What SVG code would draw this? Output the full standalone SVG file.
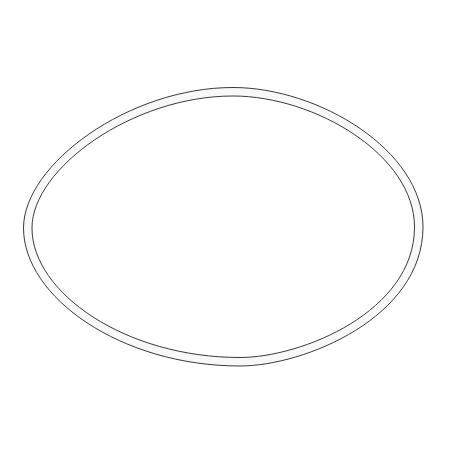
<svg xmlns="http://www.w3.org/2000/svg" width="450" height="450" viewBox="0 0 450 450">
<style>
.ring{fill:#f8f8f8;fill-rule:evenodd;stroke:none}
.line{fill:none;stroke:#3a3a3a;stroke-width:1}
</style>
<rect width="450" height="450" fill="#ffffff"/>
<g id="ring">
<path class="ring" d="M233,87.5 C318.5,87.5 423,150.3 423,227 C423,317.4 304.1,366 240,366 C120.9,366 23.5,297 23.5,228 C23.5,164.8 128.3,87.5 233,87.5 Z M233,96 C314.7,96 414.5,155 414.5,227 C414.5,311.8 301.1,357.5 240,357.5 C125.6,357.5 32,292.8 32,228 C32,168.6 132.5,96 233,96 Z"/>
<path class="line" d="M233,87.5 C318.5,87.5 423,150.3 423,227 C423,317.4 304.1,366 240,366 C120.9,366 23.5,297 23.5,228 C23.5,164.8 128.3,87.5 233,87.5 Z"/>
<path class="line" d="M233,96 C314.7,96 414.5,155 414.5,227 C414.5,311.8 301.1,357.5 240,357.5 C125.6,357.5 32,292.8 32,228 C32,168.6 132.5,96 233,96 Z"/>
</g>
</svg>
